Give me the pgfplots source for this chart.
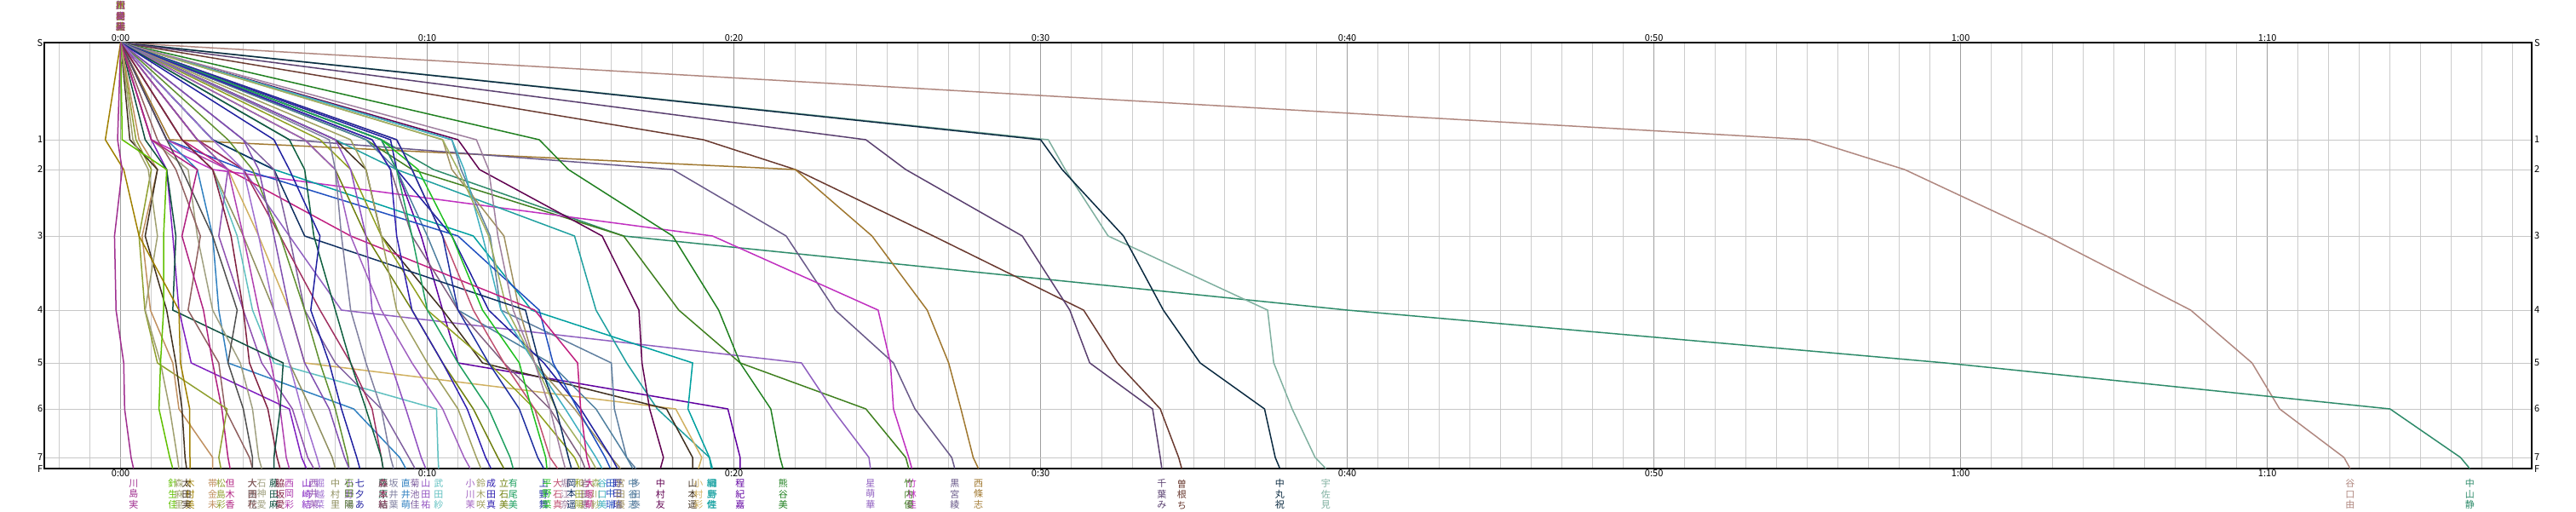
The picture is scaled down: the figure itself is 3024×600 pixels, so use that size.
\documentclass[border=0pt]{standalone}
\usepackage{fontspec}
\setmainfont{Noto Sans CJK JP}
\usepackage{pgfplots}
\pgfplotsset{compat=1.18}
\definecolor{k1}{HTML}{A03090}\definecolor{k2}{HTML}{A08000}\definecolor{k3}{HTML}{60C000}
\definecolor{k4}{HTML}{A0A070}\definecolor{k5}{HTML}{403020}\definecolor{k6}{HTML}{C09060}
\definecolor{k7}{HTML}{90A030}\definecolor{k8}{HTML}{B02080}\definecolor{k9}{HTML}{505050}
\definecolor{k10}{HTML}{906060}\definecolor{k11}{HTML}{A0A080}\definecolor{k12}{HTML}{105040}
\definecolor{k13}{HTML}{802040}\definecolor{k14}{HTML}{B040B0}\definecolor{k15}{HTML}{8020C0}
\definecolor{k16}{HTML}{9050B0}\definecolor{k17}{HTML}{A070D0}\definecolor{k18}{HTML}{909060}
\definecolor{k19}{HTML}{8050B0}\definecolor{k20}{HTML}{609030}\definecolor{k21}{HTML}{2020A0}
\definecolor{k22}{HTML}{106040}\definecolor{k23}{HTML}{A03060}\definecolor{k24}{HTML}{8080A0}
\definecolor{k25}{HTML}{3080C0}\definecolor{k26}{HTML}{8060A0}\definecolor{k27}{HTML}{9050C0}
\definecolor{k28}{HTML}{60C0C0}\definecolor{k29}{HTML}{A060C0}\definecolor{k30}{HTML}{A0A060}
\definecolor{k31}{HTML}{3020B0}\definecolor{k32}{HTML}{708010}\definecolor{k33}{HTML}{20A060}
\definecolor{k34}{HTML}{2030A0}\definecolor{k35}{HTML}{20C020}\definecolor{k36}{HTML}{C05070}
\definecolor{k37}{HTML}{A080A0}\definecolor{k38}{HTML}{103060}\definecolor{k39}{HTML}{90A020}
\definecolor{k40}{HTML}{806080}\definecolor{k41}{HTML}{C02080}\definecolor{k42}{HTML}{A0B060}
\definecolor{k43}{HTML}{40B0C0}\definecolor{k44}{HTML}{2050C0}\definecolor{k45}{HTML}{2020A0}
\definecolor{k46}{HTML}{A09060}\definecolor{k47}{HTML}{5080A0}\definecolor{k48}{HTML}{6080A0}
\definecolor{k49}{HTML}{600050}\definecolor{k50}{HTML}{403020}\definecolor{k51}{HTML}{D0B060}
\definecolor{k52}{HTML}{00A0A0}\definecolor{k53}{HTML}{20A0A0}\definecolor{k54}{HTML}{6000A0}
\definecolor{k55}{HTML}{208020}\definecolor{k56}{HTML}{9060C0}\definecolor{k57}{HTML}{C030C0}
\definecolor{k58}{HTML}{408020}\definecolor{k59}{HTML}{6A5A8A}\definecolor{k60}{HTML}{A07830}
\definecolor{k61}{HTML}{5A4070}\definecolor{k62}{HTML}{6A3A30}\definecolor{k63}{HTML}{0A2A40}
\definecolor{k64}{HTML}{80B0A0}\definecolor{k65}{HTML}{B08880}\definecolor{k66}{HTML}{2E8B6A}
\def\RR#1#2,#3,#4,#5,#6,#7,#8,#9\relax{\addplot[line width=1.5pt,color=#1] coordinates {(0,50) (#2,164) (#3,199) (#4,277) (#5,364) (#6,426) (#7,480) (#8,537) (#9,550)};}
\newcommand\R[2]{\RR{#1}#2\relax}
\newcommand\N[5]{\node[anchor=north,inner sep=0pt,text=#1,align=center,font=\fontsize{11}{12.5}\selectfont,yshift=-12.5pt] at (axis cs:#2,550) {#3\\#4\\#5};}
\newcommand\T[2]{\node[anchor=base,inner sep=0pt,font=\fontsize{11}{12}\selectfont,yshift=2pt] at (axis cs:#1,50) {#2};}
\newcommand\Y[2]{\node[anchor=west,inner sep=0pt,font=\fontsize{11}{12}\selectfont,xshift=3pt] at (axis cs:78.62,#1) {#2};}
\newcommand\B[4]{\node[anchor=south,inner sep=0pt,text=#1,align=center,font=\fontsize{11}{12.5}\selectfont,yshift=13pt] at (axis cs:0,50) {#2\\#3\\#4};}
\begin{document}
\begin{tikzpicture}
\useasboundingbox (0,0) rectangle (3024pt,600pt);
\begin{axis}[
  at={(52pt,50pt)}, anchor=south west, scale only axis,
  width=2920pt, height=500pt,
  xmin=-2.49, xmax=78.62, ymin=50, ymax=550, y dir=reverse,
  clip=false,
  axis line style={line width=1.2pt, black},
  xtick={0,10,...,70},
  xticklabels={0:00,0:10,0:20,0:30,0:40,0:50,1:00,1:10},
  minor xtick={-2,-1,...,78},
  ytick={50,164,199,277,364,426,480,537,550},
  yticklabels={S,1,2,3,4,5,6,7,F},
  xmajorgrids, xminorgrids, ymajorgrids,
  major x grid style={draw=black!38, line width=1pt},
  minor x grid style={draw=black!20, line width=1pt},
  major y grid style={draw=black!22, line width=1pt},
  major tick length=0pt, minor tick length=0pt,
  tick label style={font=\fontsize{11}{12}\selectfont},
  xticklabel style={inner sep=0pt, yshift=-1.5pt},
  yticklabel style={inner sep=0pt, xshift=-1.5pt},
]
\R{k65}{55.07,58.17,62.8,67.5,69.5,70.4,72.5,72.7}
\R{k66}{8.5,10.2,16.4,40.0,59.5,74.0,76.3,76.6}
\R{k64}{30.25,30.8,32.2,37.4,37.6,38.2,38.95,39.3}
\R{k63}{30.0,30.7,32.7,34.0,35.2,37.3,37.65,37.8}
\R{k62}{19.0,22.0,26.5,31.4,32.5,33.9,34.5,34.6}
\R{k61}{24.3,25.6,29.4,30.95,31.6,33.65,33.9,33.95}
\R{k60}{1.6,22.0,24.5,26.3,27.0,27.4,27.8,27.97}
\R{k59}{5.5,18.0,21.7,23.3,25.2,25.9,27.1,27.2}
\R{k58}{8.0,9.5,16.4,18.2,20.2,24.3,25.6,25.7}
\R{k57}{1.0,3.0,19.3,24.7,25.1,25.2,25.7,25.8}
\R{k56}{2.5,4.0,5.5,7.2,22.2,23.2,24.4,24.45}
\R{k55}{13.65,14.6,18.0,19.5,20.2,21.2,21.5,21.6}
\R{k54}{8.5,9.0,9.8,10.5,11.0,19.8,20.2,20.2}
\R{k53}{7.0,9.0,14.8,15.5,16.5,17.5,19.2,19.3}
\R{k52}{3.0,5.0,11.5,13.4,18.65,18.5,19.2,19.26}
\R{k51}{2.5,3.5,4.5,5.5,6.0,18.1,18.95,18.84}
\R{k50}{7.0,8.0,8.5,10.5,11.8,17.8,18.65,18.65}
\R{k49}{11.0,11.7,15.7,16.9,17.0,17.25,17.7,17.6}
\R{k48}{10.8,11.1,12.05,12.4,16.0,16.1,16.5,16.8}
\R{k47}{8.0,9.0,10.0,11.0,14.0,15.5,16.5,16.7}
\R{k46}{10.5,10.8,12.5,13.0,13.5,14.8,16.0,16.3}
\R{k45}{8.8,9.0,10.8,12.0,13.8,15.0,16.0,16.2}
\R{k44}{1.5,4.0,11.0,13.65,14.1,14.9,15.8,15.97}
\R{k43}{10.8,11.2,11.8,12.4,13.5,14.5,15.5,15.7}
\R{k42}{10.5,11.0,12.0,12.6,13.5,14.2,15.3,15.5}
\R{k41}{2.0,3.5,7.5,13.5,14.9,15.0,15.2,15.3}
\R{k40}{8.2,8.8,9.5,11.0,12.5,14.0,15.0,15.15}
\R{k39}{6.5,7.5,8.5,10.0,12.0,13.5,14.8,14.96}
\R{k38}{3.0,5.0,6.0,13.2,13.65,14.2,14.6,14.7}
\R{k37}{11.6,12.0,12.3,12.8,13.5,14.0,14.4,14.5}
\R{k36}{9.0,9.5,10.5,11.5,12.5,13.5,14.0,14.25}
\R{k35}{8.5,9.7,10.8,11.8,13.0,13.4,13.86,13.9}
\R{k34}{9.0,9.5,10.5,11.0,12.0,13.0,13.6,13.8}
\R{k33}{8.5,9.0,9.5,10.0,11.0,12.0,12.7,12.8}
\R{k32}{6.0,7.0,8.0,9.5,10.5,11.5,12.3,12.5}
\R{k31}{8.2,8.8,9.0,9.5,10.5,11.3,11.9,12.08}
\R{k30}{7.5,8.0,8.5,9.0,10.0,11.0,11.6,11.75}
\R{k29}{6.0,7.0,7.5,8.5,9.5,10.5,11.2,11.4}
\R{k28}{2.0,3.0,3.8,4.3,5.0,10.3,10.35,10.37}
\R{k27}{7.0,7.5,8.0,8.2,8.8,9.3,9.8,9.95}
\R{k26}{4.0,5.0,5.5,6.0,7.0,8.5,9.4,9.6}
\R{k25}{1.5,2.5,3.0,3.2,3.5,7.6,9.1,9.3}
\R{k24}{6.8,7.0,7.2,7.5,8.0,8.5,8.8,8.9}
\R{k23}{2.5,4.0,5.2,6.5,7.5,8.2,8.5,8.56}
\R{k22}{5.5,6.0,6.3,7.0,7.5,8.0,8.5,8.56}
\R{k21}{5.0,5.5,6.5,6.2,6.8,7.2,7.7,7.8}
\R{k20}{3.5,4.3,5.2,6.0,6.5,7.0,7.4,7.45}
\R{k19}{4.0,4.5,5.0,5.5,6.0,6.8,7.3,7.45}
\R{k18}{2.0,3.0,4.0,5.0,5.5,6.2,6.9,7.0}
\R{k17}{3.0,4.0,4.5,5.0,5.5,5.9,6.4,6.5}
\R{k16}{2.5,3.5,3.2,4.0,4.6,5.6,6.1,6.3}
\R{k15}{1.0,1.5,1.7,1.9,2.3,5.5,5.9,6.06}
\R{k14}{1.5,3.5,4.0,4.5,4.9,5.2,5.4,5.5}
\R{k13}{2.0,3.0,3.6,4.0,4.2,4.8,5.1,5.2}
\R{k12}{0.8,1.5,1.8,1.7,5.3,5.2,5.0,5.0}
\R{k11}{1.0,2.2,2.5,3.0,3.9,4.3,4.5,4.6}
\R{k10}{1.2,1.8,2.6,2.2,3.2,3.4,4.2,4.3}
\R{k9}{1.5,2.0,3.0,3.8,3.5,4.0,4.3,4.3}
\R{k8}{1.0,2.5,2.0,2.7,3.0,3.3,3.5,3.57}
\R{k7}{0.5,1.0,0.6,0.79,1.2,3.47,3.2,3.27}
\R{k6}{0.6,1.2,0.7,0.97,1.7,1.9,3.0,3.0}
\R{k5}{0.3,1.2,0.8,1.5,1.8,2.0,2.1,2.15}
\R{k4}{0.4,0.9,1.2,0.8,1.3,1.6,1.85,1.9}
\R{k3}{0.05,1.5,1.4,1.4,1.3,1.25,1.6,1.7}
\R{k2}{-0.5,0.1,0.6,1.9,1.95,2.25,2.26,2.26}
\R{k1}{-0.1,0.05,-0.2,-0.15,0.1,0.13,0.34,0.42}
\N{k1}{0.42}{川}{島}{実}
\N{k2}{2.26}{木}{村}{美}
\N{k3}{1.7}{針}{生}{佳}
\N{k4}{1.9}{森}{麻}{里}
\N{k5}{2.15}{太}{田}{実}
\N{k6}{3.0}{帯}{金}{未}
\N{k7}{3.27}{松}{島}{彩}
\N{k8}{3.57}{但}{木}{香}
\N{k9}{4.3}{大}{田}{花}
\N{k10}{4.3}{大}{西}{秋}
\N{k11}{4.6}{石}{神}{愛}
\N{k12}{5.0}{藤}{田}{麻}
\N{k13}{5.2}{脇}{坂}{愛}
\N{k14}{5.5}{西}{岡}{彩}
\N{k15}{6.06}{山}{崎}{結}
\N{k16}{6.3}{西}{井}{茉}
\N{k17}{6.5}{堀}{越}{菜}
\N{k18}{7.0}{中}{村}{里}
\N{k19}{7.45}{小}{野}{陽}
\N{k20}{7.45}{石}{田}{陽}
\N{k21}{7.8}{七}{夕}{あ}
\N{k22}{8.56}{藤}{原}{結}
\N{k23}{8.56}{森}{本}{結}
\N{k24}{8.9}{坂}{井}{葉}
\N{k25}{9.3}{直}{井}{萌}
\N{k26}{9.6}{菊}{池}{佳}
\N{k27}{9.95}{山}{田}{祐}
\N{k28}{10.37}{武}{田}{紗}
\N{k29}{11.4}{小}{川}{茉}
\N{k30}{11.75}{鈴}{木}{咲}
\N{k31}{12.08}{成}{田}{真}
\N{k32}{12.5}{立}{石}{美}
\N{k33}{12.8}{有}{尾}{美}
\N{k34}{13.8}{上}{野}{舞}
\N{k35}{13.9}{平}{野}{菜}
\N{k36}{14.25}{大}{石}{真}
\N{k37}{14.5}{堀}{江}{奈}
\N{k38}{14.7}{岡}{本}{遥}
\N{k39}{14.96}{和}{田}{陽}
\N{k40}{15.15}{岩}{田}{恵}
\N{k41}{15.3}{大}{塚}{萌}
\N{k42}{15.5}{森}{川}{紗}
\N{k43}{15.7}{谷}{口}{美}
\N{k44}{15.97}{田}{中}{瑞}
\N{k45}{16.2}{野}{田}{瑞}
\N{k46}{16.3}{宮}{田}{優}
\N{k47}{16.7}{中}{谷}{志}
\N{k48}{16.8}{多}{田}{泰}
\N{k49}{17.6}{中}{村}{友}
\N{k50}{18.65}{山}{本}{遥}
\N{k51}{18.84}{小}{村}{彩}
\N{k52}{19.26}{綱}{島}{佐}
\N{k53}{19.3}{細}{野}{佳}
\N{k54}{20.2}{程}{紀}{嘉}
\N{k55}{21.6}{熊}{谷}{美}
\N{k56}{24.45}{星}{萌}{華}
\N{k57}{25.8}{竹}{林}{佳}
\N{k58}{25.7}{竹}{内}{優}
\N{k59}{27.2}{黒}{宮}{綾}
\N{k60}{27.97}{西}{條}{志}
\N{k61}{33.95}{千}{葉}{み}
\N{k62}{34.6}{曽}{根}{ち}
\N{k63}{37.8}{中}{丸}{祝}
\N{k64}{39.3}{宇}{佐}{見}
\N{k65}{72.7}{谷}{口}{由}
\N{k66}{76.6}{中}{山}{静}
\B{k20}{石}{田}{陽}
\B{k15}{山}{崎}{結}
\B{k3}{針}{生}{佳}
\B{k7}{松}{島}{彩}
\B{k14}{西}{岡}{彩}
\B{k2}{木}{村}{美}
\B{k1}{川}{島}{実}
\T{0}{0:00}\T{10}{0:10}\T{20}{0:20}\T{30}{0:30}\T{40}{0:40}\T{50}{0:50}\T{60}{1:00}\T{70}{1:10}
\Y{50}{S}\Y{164}{1}\Y{199}{2}\Y{277}{3}\Y{364}{4}\Y{426}{5}\Y{480}{6}\Y{537}{7}\Y{550}{F}
\end{axis}
\end{tikzpicture}
\end{document}
